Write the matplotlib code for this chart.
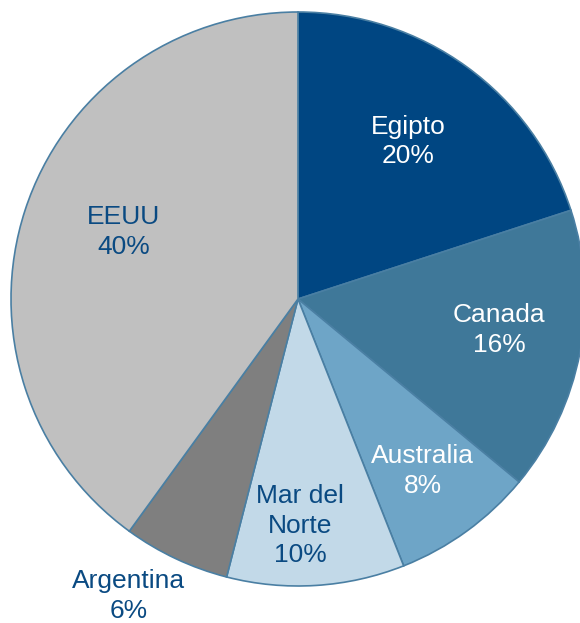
import matplotlib
matplotlib.use("Agg")
import matplotlib.pyplot as plt
import numpy as np

categories = ["Egipto", "Canada", "Australia", "Mar del\nNorte", "Argentina", "EEUU"]
values = [20, 16, 8, 10, 6, 40]
colors = ["#004682", "#3F7899", "#6EA5C7", "#C2D9E8", "#7F7F7F", "#C0C0C0"]
text_colors = ["white", "white", "white", "#0A4A82", "#0A4A82", "#0A4A82"]
label_dist = [0.67, 0.71, 0.74, 0.79, 1.19, 0.65]
label_angle_adj = [1, 2, 0, -3, -4.5, -3]

plt.rcParams['font.family'] = ['Liberation Sans', 'DejaVu Sans']

fig = plt.figure(figsize=(5.80, 6.23), dpi=100)
ax = fig.add_axes([0, 0, 1, 1])
R = 287.0
cx, cy = 298.0, 299.0

wedges, _ = ax.pie(values, colors=colors, startangle=90, counterclock=False,
                   radius=1.0,
                   wedgeprops=dict(edgecolor="#4A7FA3", linewidth=1.2))
for w, lab, tc, d, adj in zip(wedges, categories, text_colors, label_dist, label_angle_adj):
    mid = np.deg2rad((w.theta1 + w.theta2) / 2 + adj)
    pct = int(round((w.theta2 - w.theta1) / 360 * 100))
    ax.text(d * np.cos(mid), d * np.sin(mid), f"{lab}\n{pct}%", color=tc,
            ha='center', va='center', fontsize=19, linespacing=1.3)

ax.set_aspect('auto')
ax.set_xlim(-cx / R, (580 - cx) / R)
ax.set_ylim(-(623 - cy) / R, cy / R)
ax.axis('off')

fig.savefig("out.png", dpi=100)
